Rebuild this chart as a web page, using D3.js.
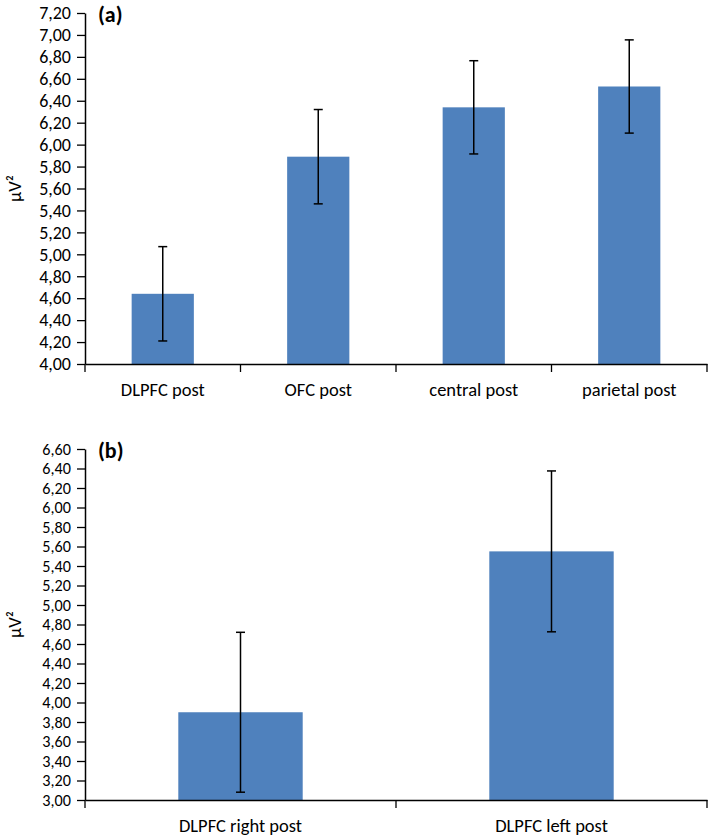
<!DOCTYPE html>
<html>
<head>
<meta charset="utf-8">
<script src="https://cdn.jsdelivr.net/npm/d3@7"></script>
<style>
  html, body { margin: 0; padding: 0; background: #fff; }
  svg { display: block; }
  text { font-family: Carlito, Lato, "Open Sans", sans-serif; fill: #000; }
</style>
</head>
<body>
<svg id="chart" width="709" height="836"></svg>
<script>
// ---- Data ----
const categoriesA = ["DLPFC post", "OFC post", "central post", "parietal post"];
const meansA = [4.64, 5.89, 6.34, 6.53];
const errorsA = [0.43, 0.43, 0.425, 0.425];
const yTicksA = [4.0, 4.2, 4.4, 4.6, 4.8, 5.0, 5.2, 5.4, 5.6, 5.8, 6.0, 6.2, 6.4, 6.6, 6.8, 7.0, 7.2];

const categoriesB = ["DLPFC right post", "DLPFC left post"];
const meansB = [3.90, 5.55];
const errorsB = [0.82, 0.825];
const yTicksB = [3.0, 3.2, 3.4, 3.6, 3.8, 4.0, 4.2, 4.4, 4.6, 4.8, 5.0, 5.2, 5.4, 5.6, 5.8, 6.0, 6.2, 6.4, 6.6];

const panelLabels = ["(a)", "(b)"];
const yLabel = "µV²";

// ---- Drawing ----
const svg = d3.select("#chart");
const fmt = v => d3.format(".2f")(v).replace(".", ",");
const barColor = "#4F81BD";

function drawPanel(cfg) {
  const { cats, means, errs, ticks, x0, x1, yTop, yBottom, label, tickFont } = cfg;
  const g = svg.append("g");
  const x = d3.scaleBand().domain(cats).range([x0, x1]).paddingInner(0.6).paddingOuter(0.3);
  const y = d3.scaleLinear().domain([ticks[0], ticks[ticks.length - 1]]).range([yBottom, yTop]);

  // bars
  g.selectAll("rect.bar").data(cats).enter().append("rect")
    .attr("class", "bar")
    .attr("x", d => x(d))
    .attr("width", x.bandwidth())
    .attr("y", (d, i) => y(means[i]))
    .attr("height", (d, i) => y(ticks[0]) - y(means[i]))
    .attr("fill", barColor);

  // error bars
  const capW = 4.5;
  const eb = g.selectAll("g.err").data(cats).enter().append("g").attr("class", "err")
    .attr("stroke", "#000").attr("stroke-width", 1.5);
  eb.append("line")
    .attr("x1", d => x(d) + x.bandwidth() / 2).attr("x2", d => x(d) + x.bandwidth() / 2)
    .attr("y1", (d, i) => y(means[i] + errs[i])).attr("y2", (d, i) => y(means[i] - errs[i]));
  eb.append("line")
    .attr("x1", d => x(d) + x.bandwidth() / 2 - capW).attr("x2", d => x(d) + x.bandwidth() / 2 + capW)
    .attr("y1", (d, i) => y(means[i] + errs[i])).attr("y2", (d, i) => y(means[i] + errs[i]));
  eb.append("line")
    .attr("x1", d => x(d) + x.bandwidth() / 2 - capW).attr("x2", d => x(d) + x.bandwidth() / 2 + capW)
    .attr("y1", (d, i) => y(means[i] - errs[i])).attr("y2", (d, i) => y(means[i] - errs[i]));

  // y axis
  const yAxis = d3.axisLeft(y).tickValues(ticks).tickFormat(fmt).tickSize(8).tickSizeOuter(0).tickPadding(6);
  const ya = g.append("g").attr("transform", `translate(${x0},0)`).call(yAxis);
  ya.select(".domain").attr("stroke", "#000").attr("stroke-width", 1.5);
  ya.selectAll(".tick line").attr("stroke", "#000").attr("stroke-width", 1.3);
  ya.selectAll(".tick text").attr("font-size", tickFont).attr("font-family", "Carlito, Lato, sans-serif");

  // x axis: category labels
  const xAxis = d3.axisBottom(x).tickSize(0).tickSizeOuter(0).tickPadding(19);
  const xa = g.append("g").attr("transform", `translate(0,${yBottom})`).call(xAxis);
  xa.select(".domain").attr("stroke", "#000").attr("stroke-width", 1.5);
  xa.selectAll(".tick text").attr("font-size", 18.5).attr("font-family", "Carlito, Lato, sans-serif");
  // boundary ticks
  const bounds = cats.map(c => x(c) - x.step() * x.paddingInner() / 2).concat([x1]);
  bounds[0] = x0;
  xa.selectAll("line.bound").data(bounds).enter().append("line")
    .attr("class", "bound")
    .attr("x1", d => d).attr("x2", d => d)
    .attr("y1", 0).attr("y2", 8)
    .attr("stroke", "#000").attr("stroke-width", 1.3);

  // panel label
  g.append("text").attr("x", x0 + 13).attr("y", yTop + 9)
    .attr("font-size", 22).attr("font-weight", "bold").text(label);

  // y label
  g.append("text")
    .attr("transform", `translate(21,${(yTop + yBottom) / 2}) rotate(-90)`)
    .attr("text-anchor", "middle")
    .attr("font-size", 18.5).text(yLabel);
}

drawPanel({ cats: categoriesA, means: meansA, errs: errorsA, ticks: yTicksA,
  x0: 85, x1: 707, yTop: 13, yBottom: 364, label: panelLabels[0], tickFont: 18 });
drawPanel({ cats: categoriesB, means: meansB, errs: errorsB, ticks: yTicksB,
  x0: 85, x1: 707, yTop: 449, yBottom: 800, label: panelLabels[1], tickFont: 16.2 });
</script>
</body>
</html>
